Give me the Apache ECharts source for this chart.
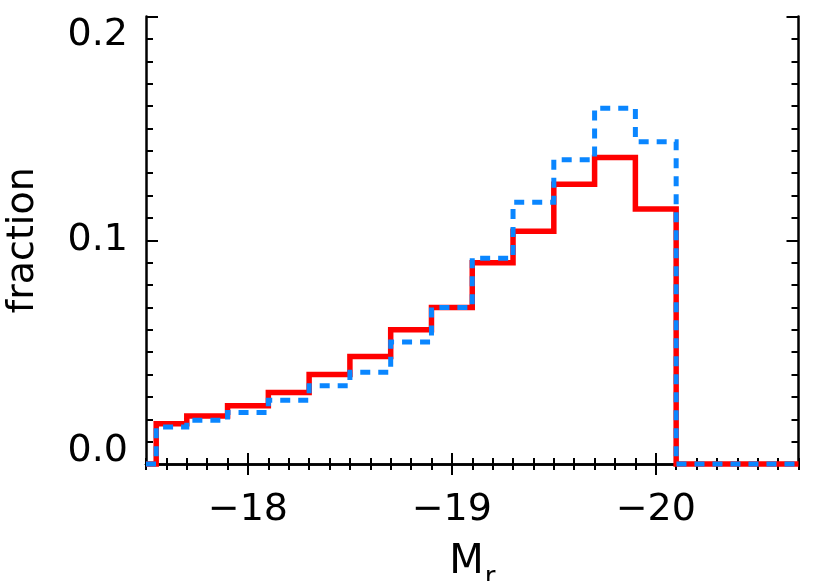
<!DOCTYPE html>
<html>
<head>
<meta charset="utf-8">
<script src="https://cdn.jsdelivr.net/npm/echarts@6/dist/echarts.min.js"></script>
<style>
  html, body { margin: 0; padding: 0; background: #fff; }
  #chart { width: 814px; height: 581px; }
</style>
</head>
<body>
<div id="chart"></div>
<script>
// bin edges along M_r (bright end to the right)
const binEdges = [-17.55, -17.7, -17.9, -18.1, -18.3, -18.5, -18.7, -18.9, -19.1, -19.3, -19.5, -19.7, -19.9, -20.1]
const redFrac  = [0.018, 0.0215, 0.026, 0.032, 0.040, 0.048, 0.060, 0.070, 0.090, 0.104, 0.125, 0.137, 0.114]
const blueFrac = [0.0165, 0.0195, 0.023, 0.0285, 0.035, 0.041, 0.0545, 0.070, 0.092, 0.117, 0.136, 0.159, 0.144]
const xMajorTicks = [-18, -19, -20]
const yMajorTicks = [0, 0.1, 0.2]

const xMin = -20.7
const xMax = -17.5

// step points: start on zero, one point per bin left edge, back to zero
function stepData(vals) {
  const pts = [[xMax, 0]]
  vals.forEach((v, i) => pts.push([binEdges[i], v]))
  pts.push([binEdges[binEdges.length - 1], 0])
  pts.push([xMin, 0])
  return pts
}

const FONT = 'DejaVu Sans'
const black = '#000'

function xAxisBase(pos) {
  return {
    type: 'value', position: pos, inverse: true, min: xMin, max: xMax,
    splitLine: { show: false }
  }
}
function yAxisBase(pos) {
  return {
    type: 'value', position: pos, min: 0, max: 0.2,
    splitLine: { show: false }
  }
}

const chart = echarts.init(document.getElementById('chart'))

const option = {
  animation: false,
  backgroundColor: '#fff',
  grid: { left: 146, right: 15.5, top: 16.5, bottom: 117, containLabel: false, outerBoundsMode: 'none' },
  xAxis: [
    Object.assign(xAxisBase('bottom'), {
      name: '{m|M}{s|r}',
      nameLocation: 'middle',
      nameGap: 79,
      nameTextStyle: {
        rich: {
          m: { fontFamily: FONT, fontSize: 40, color: black },
          s: { fontFamily: FONT, fontSize: 26, color: black, verticalAlign: 'bottom', padding: [0, 0, -8, 1] }
        }
      },
      axisLine: { show: true, lineStyle: { color: black, width: 2.5 } },
      axisTick: { show: true, inside: true, length: 11, customValues: xMajorTicks, lineStyle: { color: black, width: 2 } },
      axisLabel: {
        customValues: xMajorTicks, margin: 27, color: black, fontFamily: FONT, fontSize: 38,
        formatter: v => String(v).replace('-', '\u2212')
      }
    }),
    Object.assign(xAxisBase('bottom'), {
      interval: 0.1,
      axisLine: { show: false },
      axisTick: { show: true, inside: true, length: 6, lineStyle: { color: black, width: 2 } },
      axisLabel: { show: false }
    }),
    Object.assign(xAxisBase('top'), {
      axisLine: { show: true, lineStyle: { color: black, width: 2.5 } },
      axisTick: { show: true, inside: true, length: 11, customValues: xMajorTicks, lineStyle: { color: black, width: 2 } },
      axisLabel: { show: false }
    }),
    Object.assign(xAxisBase('top'), {
      interval: 0.1,
      axisLine: { show: false },
      axisTick: { show: true, inside: true, length: 6, lineStyle: { color: black, width: 2 } },
      axisLabel: { show: false }
    })
  ],
  yAxis: [
    Object.assign(yAxisBase('left'), {
      name: 'fraction',
      nameLocation: 'middle',
      nameGap: 104,
      nameRotate: 90,
      nameTextStyle: { fontFamily: FONT, fontSize: 38, color: black },
      axisLine: { show: true, lineStyle: { color: black, width: 2.5 } },
      axisTick: { show: true, inside: true, length: 12, customValues: yMajorTicks, lineStyle: { color: black, width: 2 } },
      axisLabel: {
        customValues: yMajorTicks, margin: 18, color: black, fontFamily: FONT, fontSize: 38,
        verticalAlignMinLabel: 'bottom', verticalAlignMaxLabel: 'top',
        formatter: v => v === 0 ? '{lo|' + v.toFixed(1) + '}' : v.toFixed(1),
        rich: { lo: { fontFamily: FONT, fontSize: 38, color: black, lineHeight: 26 } }
      }
    }),
    Object.assign(yAxisBase('left'), {
      interval: 0.01,
      axisLine: { show: false },
      axisTick: { show: true, inside: true, length: 7, lineStyle: { color: black, width: 2 } },
      axisLabel: { show: false }
    }),
    Object.assign(yAxisBase('right'), {
      axisLine: { show: true, lineStyle: { color: black, width: 2.5 } },
      axisTick: { show: true, inside: true, length: 12, customValues: yMajorTicks, lineStyle: { color: black, width: 2 } },
      axisLabel: { show: false }
    }),
    Object.assign(yAxisBase('right'), {
      interval: 0.01,
      axisLine: { show: false },
      axisTick: { show: true, inside: true, length: 7, lineStyle: { color: black, width: 2 } },
      axisLabel: { show: false }
    })
  ],
  series: [
    {
      type: 'line', name: 'red', step: 'end', xAxisIndex: 0, yAxisIndex: 0,
      data: stepData(redFrac), showSymbol: false, symbol: 'none', clip: false,
      lineStyle: { color: '#ff0000', width: 5.5, cap: 'butt', join: 'miter' },
      z: 3
    },
    {
      type: 'line', name: 'blue', step: 'end', xAxisIndex: 0, yAxisIndex: 0,
      data: stepData(blueFrac), showSymbol: false, symbol: 'none', clip: false,
      lineStyle: { color: '#0a86ff', width: 5, type: [10, 8], cap: 'butt', join: 'miter' },
      z: 4
    }
  ]
}

chart.setOption(option)
</script>
</body>
</html>
